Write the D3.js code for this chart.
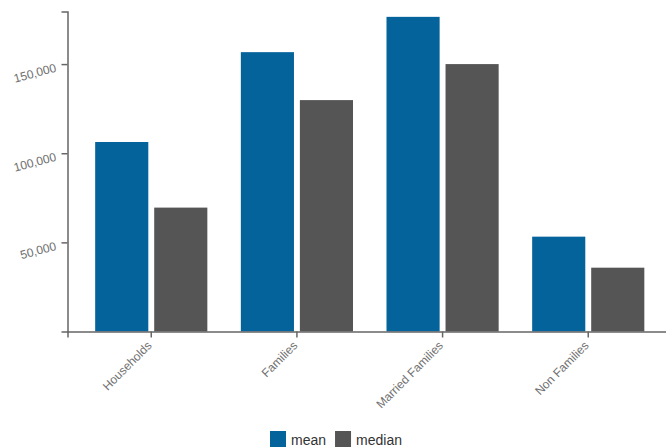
<!DOCTYPE html>
<html>
<head>
<meta charset="utf-8">
<script src="https://cdn.jsdelivr.net/npm/d3@7"></script>
<style>
  body { margin: 0; background: #fff; font-family: "Liberation Sans", Arial, sans-serif; }
  .axis path, .axis line { stroke: #666; stroke-width: 1.5; }
  .axis text { fill: #707070; font-size: 12px; }
  .legend text { fill: #333; font-size: 14px; }
</style>
</head>
<body>
<div id="chart"></div>
<script>
// categories and series
var categories = ["Households", "Families", "Married Families", "Non Families"];
var seriesKeys = ["mean", "median"];
var meanValues = [106300, 156700, 176500, 53200];
var medianValues = [69500, 129800, 150000, 35800];
var yTicks = [50000, 100000, 150000];
var colors = { mean: "#05639c", median: "#555555" };

var width = 666, height = 448;
var margin = { top: 11.5, left: 67.5, bottom: 116 };

var data = categories.map(function (c, i) {
    return { cat: c, mean: meanValues[i], median: medianValues[i] };
});

var svg = d3.select("#chart").append("svg")
    .attr("width", width)
    .attr("height", height);

//x scales: group per category, then one band per series
var x0 = d3.scaleBand()
    .domain(categories)
    .range([margin.left, 672])
    .paddingInner(0.23)
    .paddingOuter(0.19);

var x1 = d3.scaleBand()
    .domain(seriesKeys)
    .range([0, x0.bandwidth()])
    .paddingInner(0.1);

var yMax = d3.max(meanValues.concat(medianValues)) * 1.017;
var y = d3.scaleLinear()
    .domain([0, yMax])
    .range([height - margin.bottom - 0.5, margin.top]);

// bars
svg.append("g")
    .selectAll("g")
    .data(data)
    .enter().append("g")
    .attr("transform", function (d) { return "translate(" + x0(d.cat) + ",0)"; })
    .selectAll("rect")
    .data(function (d) { return seriesKeys.map(function (k) { return { key: k, value: d[k] }; }); })
    .enter().append("rect")
    .attr("x", function (d) { return x1(d.key); })
    .attr("y", function (d) { return y(d.value); })
    .attr("width", x1.bandwidth())
    .attr("height", function (d) { return y(0) - y(d.value); })
    .attr("fill", function (d) { return colors[d.key]; });

// x axis
var xAxis = svg.append("g")
    .attr("class", "axis")
    .attr("transform", "translate(0," + y(0) + ")")
    .call(d3.axisBottom(x0).tickSizeInner(6).tickSizeOuter(6));

xAxis.selectAll("text")
    .style("text-anchor", "end")
    .attr("dx", "-.8em")
    .attr("dy", ".2em")
    .attr("transform", "rotate(-45)");

// y axis
var yAxis = svg.append("g")
    .attr("class", "axis")
    .attr("transform", "translate(" + margin.left + ",0)")
    .call(d3.axisLeft(y).tickValues(yTicks).tickFormat(d3.format(",")).tickSizeOuter(6));

yAxis.selectAll(".tick text")
    .attr("x", -12)
    .attr("transform", "rotate(-15)");

// legend
var legend = svg.append("g")
    .attr("class", "legend")
    .attr("transform", "translate(270,431)");

var lx = 0;
seriesKeys.forEach(function (k) {
    var item = legend.append("g").attr("transform", "translate(" + lx + ",0)");
    item.append("rect")
        .attr("width", 16)
        .attr("height", 16)
        .attr("fill", colors[k]);
    var t = item.append("text")
        .attr("x", 21)
        .attr("y", 14)
        .text(k);
    lx += 21 + t.node().getComputedTextLength() + 9;
});
</script>
</body>
</html>
